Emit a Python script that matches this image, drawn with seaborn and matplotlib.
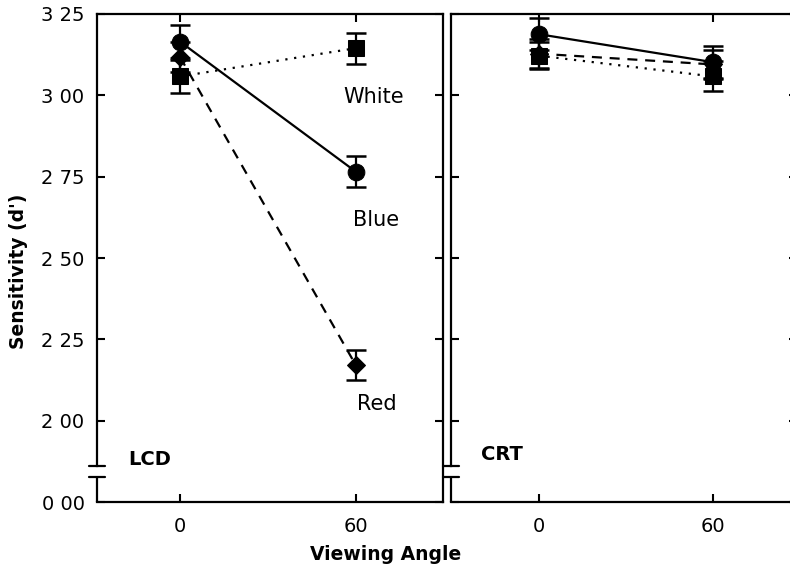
import matplotlib
matplotlib.use("Agg")
import matplotlib.pyplot as plt
import seaborn as sns
import pandas as pd

# data
angles = [0, 60]
lcd_blue = [3.165, 2.765]
lcd_white = [3.058, 3.145]
lcd_red = [3.118, 2.170]
lcd_blue_err = [0.050, 0.048]
lcd_white_err = [0.050, 0.048]
lcd_red_err = [0.045, 0.046]

crt_blue = [3.188, 3.102]
crt_white = [3.122, 3.058]
crt_red = [3.128, 3.095]
crt_blue_err = [0.050, 0.050]
crt_white_err = [0.042, 0.046]
crt_red_err = [0.045, 0.045]

# broken axis: the "0 00" tick is drawn at 1.75
ytick_pos = [1.75, 2.00, 2.25, 2.50, 2.75, 3.00, 3.25]
ytick_labels = ["0 00", "2 00", "2 25", "2 50", "2 75", "3 00", "3 25"]
break_lo, break_hi = 1.827, 1.861

sns.set_style("ticks")
plt.rcParams['font.family'] = ['DejaVu Sans']
plt.rcParams['text.color'] = 'black'

fig = plt.figure(figsize=(7.9, 5.71), dpi=100)
ax1 = fig.add_axes([0.1228, 0.1208, 0.438, 0.8547])
ax2 = fig.add_axes([0.5709, 0.1208, 0.438, 0.8547])

styles = {
    "Red": dict(marker="D", markersize=9.5, linestyle=(0, (4.5, 3.5))),
    "White": dict(marker="s", markersize=11.5, linestyle=(0, (1, 3))),
    "Blue": dict(marker="o", markersize=12, linestyle="-"),
}

panels = [
    (ax1, {"Red": (lcd_red, lcd_red_err), "White": (lcd_white, lcd_white_err),
           "Blue": (lcd_blue, lcd_blue_err)}, (-28.3, 89.7)),
    (ax2, {"Red": (crt_red, crt_red_err), "White": (crt_white, crt_white_err),
           "Blue": (crt_blue, crt_blue_err)}, (-30.2, 89.0)),
]

for ax, series, xl in panels:
    for name, (vals, errs) in series.items():
        df = pd.DataFrame({"angle": angles, "d": vals})
        st = styles[name]
        ax.errorbar(angles, vals, yerr=errs, fmt="none", ecolor="black",
                    elinewidth=1.6, capsize=7.5, capthick=1.8, zorder=2)
        sns.lineplot(data=df, x="angle", y="d", ax=ax, color="black",
                     linewidth=1.6, marker=st["marker"],
                     markersize=st["markersize"], markeredgecolor="black",
                     linestyle=st["linestyle"], zorder=3)
    ax.set_xlim(*xl)
    ax.set_ylim(1.75, 3.25)
    ax.set_xticks(angles)
    ax.set_yticks(ytick_pos)
    ax.set_xlabel("")
    ax.set_ylabel("")
    ax.tick_params(direction="in", length=6, width=1.5, top=True, right=True,
                   labelsize=14, colors="black")
    ax.tick_params(axis="y", pad=9)
    ax.tick_params(axis="x", pad=11)
    for sp in ax.spines.values():
        sp.set_visible(True)
        sp.set_linewidth(1.6)
        sp.set_color("black")
    # break in the left spine
    ax.spines["left"].set_bounds(break_hi, 3.25)
    ax.plot([0, 0], [1.75, break_lo], transform=ax.get_yaxis_transform(),
            color="black", lw=1.6, clip_on=False, solid_capstyle="butt")
    for yb in (break_lo, break_hi):
        ax.plot([-0.022, 0.022], [yb, yb], transform=ax.get_yaxis_transform(),
                color="black", lw=1.6, clip_on=False)

ax1.set_yticklabels(ytick_labels)
ax2.set_yticklabels([])

# series labels
ax1.text(66, 2.995, "White", ha="center", va="center", fontsize=15)
ax1.text(67, 2.617, "Blue", ha="center", va="center", fontsize=15)
ax1.text(67, 2.05, "Red", ha="center", va="center", fontsize=15)
ax1.text(-17.5, 1.882, "LCD", ha="left", va="center", fontsize=14, fontweight="bold")
ax2.text(-20, 1.897, "CRT", ha="left", va="center", fontsize=14, fontweight="bold")

fig.text(386 / 790, 1 - 555 / 571, "Viewing Angle", ha="center", va="center",
         fontsize=13.5, fontweight="bold")
fig.text(19 / 790, 1 - 271 / 571, "Sensitivity (d')", ha="center", va="center",
         rotation=90, fontsize=13.5, fontweight="bold")

fig.savefig("out.png", dpi=100)
